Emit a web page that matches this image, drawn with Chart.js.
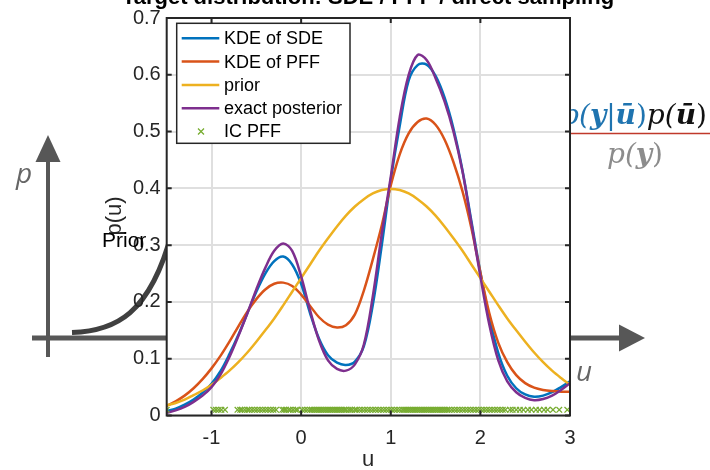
<!DOCTYPE html>
<html>
<head>
<meta charset="utf-8">
<script src="https://cdn.jsdelivr.net/npm/chart.js@4.4.0/dist/chart.umd.min.js"></script>
<style>
  html, body { margin: 0; padding: 0; background: #fff; }
  #wrap { width: 710px; height: 470px; }
</style>
</head>
<body>
<div id="wrap"><canvas id="pdf-chart" width="710" height="470"></canvas></div>
<script>
// Values
const uGrid = [-1.5, -1.4, -1.3, -1.2, -1.1, -1.0, -0.9, -0.8, -0.7, -0.6, -0.5, -0.4, -0.3, -0.2, -0.1,
               0.0, 0.1, 0.2, 0.3, 0.4, 0.5, 0.6, 0.7, 0.8, 0.9, 1.0, 1.1, 1.2, 1.3, 1.4, 1.5,
               1.6, 1.7, 1.8, 1.9, 2.0, 2.1, 2.2, 2.3, 2.4, 2.5, 2.6, 2.7, 2.8, 2.9, 3.0];

const kdeSde = [0.008, 0.012, 0.019, 0.028, 0.040, 0.056, 0.078, 0.108, 0.142, 0.180, 0.218, 0.250, 0.272, 0.280, 0.266,
                0.232, 0.180, 0.135, 0.106, 0.093, 0.089, 0.095, 0.122, 0.195, 0.300, 0.415, 0.510, 0.590, 0.617, 0.618, 0.598,
                0.560, 0.505, 0.432, 0.342, 0.252, 0.172, 0.110, 0.070, 0.048, 0.037, 0.033, 0.035, 0.041, 0.050, 0.060];

const kdePff = [0.017, 0.025, 0.035, 0.048, 0.064, 0.083, 0.105, 0.130, 0.157, 0.183, 0.205, 0.222, 0.232, 0.234, 0.228,
                0.213, 0.193, 0.173, 0.160, 0.155, 0.159, 0.178, 0.220, 0.275, 0.335, 0.405, 0.460, 0.497, 0.517, 0.523, 0.512,
                0.486, 0.446, 0.395, 0.330, 0.252, 0.180, 0.128, 0.094, 0.071, 0.057, 0.049, 0.045, 0.043, 0.042, 0.042];

const prior = [0.018, 0.022, 0.028, 0.036, 0.044, 0.054, 0.066, 0.079, 0.094, 0.111, 0.130, 0.150, 0.171, 0.194, 0.218,
               0.242, 0.266, 0.290, 0.312, 0.333, 0.352, 0.368, 0.381, 0.391, 0.397, 0.399, 0.397, 0.391, 0.381, 0.368, 0.352,
               0.333, 0.312, 0.290, 0.266, 0.242, 0.218, 0.194, 0.171, 0.150, 0.130, 0.111, 0.094, 0.079, 0.066, 0.054];

const posterior = [0.005, 0.009, 0.015, 0.024, 0.035, 0.050, 0.072, 0.103, 0.140, 0.180, 0.222, 0.260, 0.290, 0.303, 0.290,
                   0.245, 0.185, 0.132, 0.097, 0.082, 0.079, 0.090, 0.125, 0.210, 0.320, 0.420, 0.525, 0.600, 0.635, 0.626, 0.594,
                   0.553, 0.500, 0.430, 0.338, 0.245, 0.160, 0.097, 0.060, 0.041, 0.031, 0.027, 0.029, 0.035, 0.045, 0.057];

// initial condition samples of the PFF, drawn along the bottom
const icPffU = [-1.50,
  -0.98, -0.95, -0.92, -0.89, -0.85,
  -0.71, -0.68, -0.66, -0.63, -0.60, -0.58, -0.55, -0.52, -0.49, -0.46, -0.43, -0.40, -0.37, -0.34, -0.31, -0.28,
  -0.21, -0.19, -0.17, -0.14, -0.12, -0.09, -0.06, -0.04,
  0.01, 0.04, 0.07, 0.10, 0.12, 0.14, 0.16, 0.18, 0.20, 0.22, 0.24, 0.26, 0.28, 0.30, 0.32, 0.34, 0.36, 0.38, 0.40,
  0.42, 0.44, 0.46, 0.48, 0.50, 0.53, 0.55, 0.57, 0.60, 0.62, 0.65, 0.68, 0.71, 0.74, 0.77, 0.80, 0.83, 0.86, 0.89,
  0.92, 0.95, 0.98, 1.01, 1.04, 1.07, 1.10, 1.13, 1.15, 1.17, 1.19, 1.21, 1.23, 1.25, 1.27, 1.29, 1.31, 1.33, 1.35,
  1.37, 1.39, 1.41, 1.43, 1.45, 1.47, 1.49, 1.51, 1.53, 1.55, 1.57, 1.59, 1.61, 1.63, 1.65, 1.68, 1.71, 1.74, 1.77,
  1.80, 1.83, 1.86, 1.89, 1.92, 1.95, 1.98, 2.01, 2.04, 2.07, 2.10, 2.13, 2.16, 2.19, 2.22, 2.25, 2.28,
  2.33, 2.36, 2.40, 2.44, 2.48, 2.53, 2.57, 2.62, 2.66, 2.71, 2.75, 2.81, 2.88, 2.97];
const icPffLevel = 0.01;

const xTicks = [-1, 0, 1, 2, 3];
const yTicks = [0, 0.1, 0.2, 0.3, 0.4, 0.5, 0.6, 0.7];

const seriesNames = ['KDE of SDE', 'KDE of PFF', 'prior', 'exact posterior', 'IC PFF'];
const seriesColours = ['#0072BD', '#D95319', '#EDB120', '#7E2F8E', '#77AC30'];

const axisInk = '#262626';
const fontFamily = '"Liberation Sans", Arial, Helvetica, sans-serif';

function toPoints(ys) {
  return uGrid.map((u, i) => ({ x: u, y: ys[i] }));
}

const curves = [kdeSde, kdePff, prior, posterior];
const datasets = curves.map((ys, i) => ({
  label: seriesNames[i],
  data: toPoints(ys),
  showLine: true,
  borderColor: seriesColours[i],
  backgroundColor: seriesColours[i],
  borderWidth: 2.5,
  pointRadius: 0,
  tension: 0.35,
  fill: false,
  order: 5 - i
}));
datasets.push({
  label: seriesNames[4],
  data: icPffU.map(u => ({ x: u, y: icPffLevel })),
  showLine: false,
  pointStyle: 'crossRot',
  pointRadius: 4,
  borderWidth: 1.3,
  borderColor: seriesColours[4],
  backgroundColor: seriesColours[4],
  order: 0
});

// the sketch behind the axes, the boxed axes, legend and labels
const figureDecor = {
  id: 'figureDecor',
  beforeDraw(chart) {
    const ctx = chart.ctx;
    const a = chart.chartArea;
    ctx.save();
    ctx.fillStyle = '#fff';
    ctx.fillRect(0, 0, chart.width, chart.height);

    // grey sketch axes with arrows
    ctx.strokeStyle = '#575757';
    ctx.fillStyle = '#575757';
    ctx.lineWidth = 4;
    ctx.beginPath();
    ctx.moveTo(48, 357); ctx.lineTo(48, 158);
    ctx.stroke();
    ctx.beginPath();
    ctx.moveTo(48, 135); ctx.lineTo(35.5, 162); ctx.lineTo(60.5, 162); ctx.closePath();
    ctx.fill();
    ctx.lineWidth = 5;
    ctx.beginPath();
    ctx.moveTo(32, 338); ctx.lineTo(622, 338);
    ctx.stroke();
    ctx.beginPath();
    ctx.moveTo(645, 338); ctx.lineTo(619, 324.5); ctx.lineTo(619, 351.5); ctx.closePath();
    ctx.fill();

    // sketch prior curve
    ctx.strokeStyle = '#404040';
    ctx.lineWidth = 5;
    ctx.beginPath();
    ctx.moveTo(72, 332.5);
    ctx.bezierCurveTo(115, 331, 150, 315, 172, 232);
    ctx.stroke();

    ctx.fillStyle = '#666';
    ctx.font = 'italic 28px "Open Sans", "DejaVu Sans", sans-serif';
    ctx.textAlign = 'left';
    ctx.textBaseline = 'alphabetic';
    ctx.fillText('p', 16, 183);
    ctx.fillText('u', 576, 381);

    // Bayes formula, partly hidden by the axes
    const parts = [
      ['p(', '#1f74b0', 'italic'], ['y', '#1f74b0', 'italic bold'], ['|', '#1f74b0', ''],
      ['ū', '#1f74b0', 'italic bold'], [')', '#1f74b0', ''],
      ['p(', '#111', 'italic'], ['ū', '#111', 'italic bold'], [')', '#111', '']
    ];
    const size = 28;
    let total = 0;
    parts.forEach(p => {
      ctx.font = p[2] + ' ' + size + 'px "DejaVu Serif", serif';
      total += ctx.measureText(p[0]).width;
    });
    let x = 707 - total;
    parts.forEach(p => {
      ctx.font = p[2] + ' ' + size + 'px "DejaVu Serif", serif';
      ctx.fillStyle = p[1];
      ctx.fillText(p[0], x, 124);
      x += ctx.measureText(p[0]).width;
    });
    ctx.strokeStyle = '#c0392b';
    ctx.lineWidth = 1.5;
    ctx.beginPath();
    ctx.moveTo(560, 133.5); ctx.lineTo(710, 133.5);
    ctx.stroke();
    const den = [['p(', 'italic'], ['y', 'italic bold'], [')', '']];
    let dw = 0;
    den.forEach(p => { ctx.font = p[1] + ' ' + size + 'px "DejaVu Serif", serif'; dw += ctx.measureText(p[0]).width; });
    x = 635 - dw / 2;
    ctx.fillStyle = '#8c8c8c';
    den.forEach(p => {
      ctx.font = p[1] + ' ' + size + 'px "DejaVu Serif", serif';
      ctx.fillText(p[0], x, 163);
      x += ctx.measureText(p[0]).width;
    });

    // white plotting area on top of the sketch
    ctx.fillStyle = '#fff';
    ctx.fillRect(a.left, a.top, a.right - a.left, a.bottom - a.top);
    ctx.restore();
  },
  afterDraw(chart) {
    const ctx = chart.ctx;
    const a = chart.chartArea;
    const xs = chart.scales.x, ys = chart.scales.y;
    ctx.save();

    // box and inward ticks
    ctx.strokeStyle = axisInk;
    ctx.lineWidth = 2;
    ctx.strokeRect(a.left, a.top, a.right - a.left, a.bottom - a.top);
    const tl = 5;
    ctx.beginPath();
    xTicks.forEach(v => {
      const px = xs.getPixelForValue(v);
      ctx.moveTo(px, a.bottom); ctx.lineTo(px, a.bottom - tl);
      ctx.moveTo(px, a.top); ctx.lineTo(px, a.top + tl);
    });
    yTicks.forEach(v => {
      const py = ys.getPixelForValue(v);
      ctx.moveTo(a.left, py); ctx.lineTo(a.left + tl, py);
      ctx.moveTo(a.right, py); ctx.lineTo(a.right - tl, py);
    });
    ctx.stroke();

    // legend
    const lx = 176.7, ly = 23.3, lw = 173.3, lh = 120;
    ctx.fillStyle = '#fff';
    ctx.fillRect(lx, ly, lw, lh);
    ctx.lineWidth = 1.5;
    ctx.strokeStyle = axisInk;
    ctx.strokeRect(lx, ly, lw, lh);
    ctx.font = '18px ' + fontFamily;
    ctx.textBaseline = 'middle';
    ctx.textAlign = 'left';
    chart.data.datasets.forEach((ds, i) => {
      const rowY = 38.3 + i * 23.3;
      ctx.strokeStyle = ds.borderColor;
      if (ds.showLine === false) {
        ctx.lineWidth = 1.3;
        ctx.beginPath();
        ctx.moveTo(198, rowY - 3); ctx.lineTo(204, rowY + 3);
        ctx.moveTo(204, rowY - 3); ctx.lineTo(198, rowY + 3);
        ctx.stroke();
      } else {
        ctx.lineWidth = 2.5;
        ctx.beginPath();
        ctx.moveTo(181.7, rowY); ctx.lineTo(219.3, rowY);
        ctx.stroke();
      }
      ctx.fillStyle = '#000';
      ctx.fillText(ds.label, 224, rowY + 1);
    });

    // title and axis labels
    ctx.fillStyle = '#000';
    ctx.textAlign = 'center';
    ctx.textBaseline = 'alphabetic';
    ctx.font = 'bold 22px ' + fontFamily;
    ctx.fillText('Target distribution: SDE / PFF / direct sampling', 368, 4);
    ctx.font = '22px ' + fontFamily;
    ctx.textBaseline = 'middle';
    ctx.fillStyle = axisInk;
    ctx.fillText('u', 368, 460);
    ctx.save();
    ctx.translate(115, 216);
    ctx.rotate(-Math.PI / 2);
    ctx.fillText('p(u)', 0, 0);
    ctx.restore();

    // sketch label over the tick labels
    ctx.fillStyle = '#000';
    ctx.textAlign = 'left';
    ctx.font = '21px ' + fontFamily;
    ctx.fillText('Prior', 102, 241);
    ctx.restore();
  }
};

const ctx = document.getElementById('pdf-chart').getContext('2d');
const pdfChart = new Chart(ctx, {
  type: 'scatter',
  data: { datasets: datasets },
  options: {
    responsive: false,
    animation: false,
    devicePixelRatio: 1,
    layout: { padding: { left: 0, top: 13.5, right: 140, bottom: 0 } },
    plugins: {
      legend: { display: false },
      title: { display: false },
      tooltip: { enabled: false }
    },
    scales: {
      x: {
        type: 'linear',
        min: -1.5,
        max: 3,
        afterBuildTicks: (axis) => { axis.ticks = xTicks.map(v => ({ value: v })); },
        afterFit: (axis) => { axis.height = 54.5; },
        grid: { color: '#dfdfdf', lineWidth: 2, drawTicks: false },
        border: { display: false },
        ticks: {
          padding: 11,
          color: axisInk,
          font: { family: fontFamily, size: 20 },
          callback: v => String(v)
        }
      },
      y: {
        type: 'linear',
        min: 0,
        max: 0.7,
        afterBuildTicks: (axis) => { axis.ticks = yTicks.map(v => ({ value: v })); },
        afterFit: (axis) => { axis.width = 166.7; },
        grid: { color: '#dfdfdf', lineWidth: 2, drawTicks: false },
        border: { display: false },
        ticks: {
          padding: 6,
          color: axisInk,
          font: { family: fontFamily, size: 20 },
          callback: v => String(v)
        }
      }
    }
  },
  plugins: [figureDecor]
});
</script>
</body>
</html>
